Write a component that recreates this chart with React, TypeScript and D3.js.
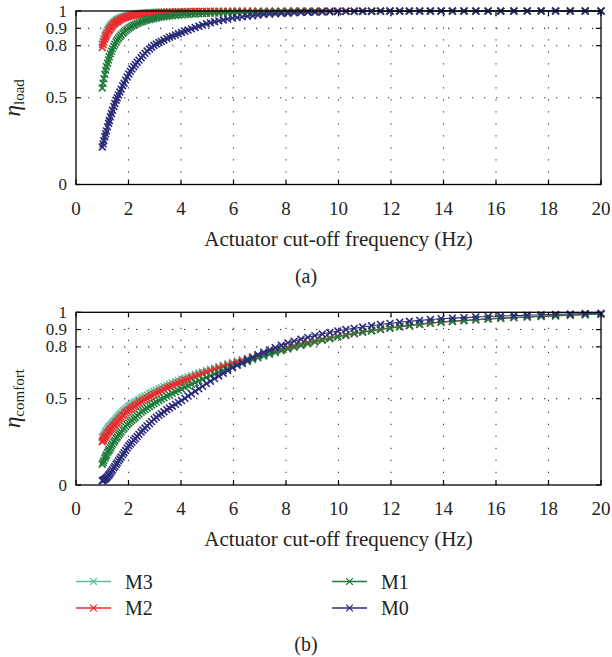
import React from "react";
import * as d3 from "d3";

// Actuator cut-off frequency grid (Hz)
const freq = [
  1.00, 1.03, 1.06, 1.10, 1.13, 1.16, 1.20, 1.24, 1.27, 1.31,
  1.35, 1.39, 1.44, 1.48, 1.53, 1.57, 1.62, 1.67, 1.72, 1.78,
  1.83, 1.89, 1.95, 2.01, 2.07, 2.13, 2.20, 2.26, 2.33, 2.40,
  2.48, 2.55, 2.63, 2.71, 2.80, 2.88, 2.97, 3.06, 3.16, 3.25,
  3.35, 3.46, 3.56, 3.67, 3.79, 3.90, 4.02, 4.15, 4.27, 4.40,
  4.54, 4.68, 4.82, 4.97, 5.12, 5.28, 5.44, 5.61, 5.78, 5.96,
  6.14, 6.33, 6.53, 6.73, 6.93, 7.15, 7.37, 7.59, 7.82, 8.07,
  8.31, 8.57, 8.83, 9.10, 9.38, 9.67, 9.97, 10.28, 10.60, 10.92,
  11.26, 11.60, 11.96, 12.33, 12.70, 13.09, 13.50, 13.91, 14.34, 14.78,
  15.23, 15.70, 16.18, 16.68, 17.19, 17.72, 18.27, 18.83, 19.40, 20.00,
];

// (a) eta_load
const loadM3 = [
  0.810, 0.826, 0.840, 0.857, 0.868, 0.878, 0.890, 0.900, 0.907, 0.915,
  0.923, 0.929, 0.936, 0.941, 0.947, 0.951, 0.955, 0.959, 0.963, 0.966,
  0.969, 0.972, 0.974, 0.977, 0.979, 0.980, 0.982, 0.984, 0.985, 0.986,
  0.988, 0.989, 0.990, 0.990, 0.991, 0.992, 0.993, 0.993, 0.994, 0.994,
  0.995, 0.995, 0.996, 0.996, 0.997, 0.997, 0.997, 0.997, 0.998, 0.998,
  0.998, 0.998, 0.998, 0.998, 0.999, 0.999, 0.999, 0.999, 0.999, 0.999,
  0.999, 0.999, 0.999, 0.999, 0.999, 1, 1, 1, 1, 1,
  1, 1, 1, 1, 1, 1, 1, 1, 1, 1,
  1, 1, 1, 1, 1, 1, 1, 1, 1, 1,
  1, 1, 1, 1, 1, 1, 1, 1, 1, 1,
];
const loadM2 = [
  0.790, 0.806, 0.821, 0.838, 0.850, 0.860, 0.873, 0.884, 0.891, 0.900,
  0.908, 0.915, 0.923, 0.929, 0.935, 0.939, 0.944, 0.949, 0.953, 0.957,
  0.960, 0.964, 0.967, 0.969, 0.972, 0.974, 0.976, 0.978, 0.980, 0.981,
  0.983, 0.984, 0.985, 0.986, 0.988, 0.989, 0.989, 0.990, 0.991, 0.992,
  0.992, 0.993, 0.994, 0.994, 0.995, 0.995, 0.995, 0.996, 0.996, 0.996,
  0.997, 0.997, 0.997, 0.997, 0.998, 0.998, 0.998, 0.998, 0.998, 0.998,
  0.999, 0.999, 0.999, 0.999, 0.999, 0.999, 0.999, 0.999, 0.999, 0.999,
  1, 1, 1, 1, 1, 1, 1, 1, 1, 1,
  1, 1, 1, 1, 1, 1, 1, 1, 1, 1,
  1, 1, 1, 1, 1, 1, 1, 1, 1, 1,
];
const loadM1 = [
  0.556, 0.584, 0.610, 0.635, 0.658, 0.679, 0.699, 0.718, 0.736, 0.753,
  0.768, 0.783, 0.797, 0.809, 0.821, 0.833, 0.843, 0.853, 0.862, 0.871,
  0.879, 0.887, 0.894, 0.901, 0.907, 0.913, 0.918, 0.923, 0.928, 0.933,
  0.937, 0.941, 0.945, 0.948, 0.951, 0.954, 0.957, 0.960, 0.963, 0.965,
  0.967, 0.969, 0.971, 0.973, 0.975, 0.976, 0.978, 0.979, 0.980, 0.982,
  0.983, 0.984, 0.985, 0.986, 0.987, 0.988, 0.988, 0.989, 0.990, 0.990,
  0.991, 0.992, 0.992, 0.993, 0.993, 0.994, 0.994, 0.994, 0.995, 0.995,
  0.995, 0.996, 0.996, 0.996, 0.996, 0.996, 0.997, 0.997, 0.997, 0.997,
  0.997, 0.998, 0.998, 0.998, 0.998, 0.998, 0.998, 0.999, 0.999, 0.999,
  0.999, 0.999, 0.999, 0.999, 1, 1, 1, 1, 1, 1,
];
const loadM0 = [
  0.216, 0.234, 0.252, 0.275, 0.292, 0.309, 0.332, 0.353, 0.369, 0.390,
  0.409, 0.428, 0.450, 0.467, 0.486, 0.500, 0.516, 0.533, 0.549, 0.569,
  0.584, 0.602, 0.620, 0.637, 0.652, 0.666, 0.679, 0.692, 0.705, 0.717,
  0.731, 0.743, 0.756, 0.769, 0.781, 0.791, 0.801, 0.810, 0.818, 0.825,
  0.833, 0.842, 0.849, 0.855, 0.862, 0.869, 0.876, 0.883, 0.890, 0.897,
  0.905, 0.912, 0.919, 0.927, 0.932, 0.938, 0.943, 0.948, 0.953, 0.959,
  0.962, 0.966, 0.970, 0.973, 0.977, 0.980, 0.982, 0.984, 0.986, 0.987,
  0.989, 0.991, 0.992, 0.993, 0.994, 0.996, 0.997, 0.998, 0.998, 0.999,
  0.999, 1, 1, 1, 1, 1, 1, 1, 1, 1,
  1, 1, 1, 1, 1, 1, 1, 1, 1, 1,
];

// (b) eta_comfort
const comfortM3 = [
  0.275, 0.283, 0.290, 0.300, 0.308, 0.315, 0.325, 0.332, 0.338, 0.345,
  0.352, 0.360, 0.368, 0.375, 0.383, 0.390, 0.398, 0.407, 0.415, 0.425,
  0.432, 0.440, 0.448, 0.456, 0.462, 0.468, 0.475, 0.481, 0.488, 0.495,
  0.503, 0.509, 0.515, 0.522, 0.529, 0.535, 0.543, 0.549, 0.556, 0.563,
  0.570, 0.577, 0.584, 0.591, 0.599, 0.606, 0.613, 0.620, 0.626, 0.633,
  0.641, 0.648, 0.655, 0.663, 0.671, 0.678, 0.686, 0.694, 0.702, 0.710,
  0.718, 0.726, 0.735, 0.743, 0.752, 0.761, 0.770, 0.779, 0.788, 0.798,
  0.806, 0.816, 0.826, 0.835, 0.844, 0.853, 0.863, 0.871, 0.880, 0.888,
  0.896, 0.904, 0.912, 0.919, 0.926, 0.932, 0.939, 0.945, 0.949, 0.954,
  0.958, 0.963, 0.967, 0.971, 0.974, 0.978, 0.981, 0.984, 0.987, 0.990,
];
const comfortM2 = [
  0.250, 0.258, 0.265, 0.275, 0.283, 0.290, 0.300, 0.308, 0.313, 0.321,
  0.328, 0.336, 0.345, 0.352, 0.360, 0.367, 0.375, 0.384, 0.392, 0.402,
  0.409, 0.418, 0.426, 0.434, 0.440, 0.447, 0.454, 0.460, 0.467, 0.475,
  0.483, 0.489, 0.496, 0.503, 0.510, 0.517, 0.525, 0.532, 0.539, 0.546,
  0.554, 0.562, 0.569, 0.576, 0.584, 0.591, 0.599, 0.607, 0.613, 0.621,
  0.629, 0.637, 0.645, 0.653, 0.661, 0.669, 0.677, 0.686, 0.694, 0.703,
  0.711, 0.720, 0.729, 0.738, 0.747, 0.756, 0.766, 0.775, 0.784, 0.795,
  0.804, 0.814, 0.824, 0.833, 0.842, 0.851, 0.861, 0.869, 0.878, 0.886,
  0.894, 0.902, 0.910, 0.917, 0.924, 0.931, 0.938, 0.944, 0.948, 0.953,
  0.957, 0.962, 0.966, 0.970, 0.973, 0.977, 0.980, 0.983, 0.987, 0.990,
];
const comfortM1 = [
  0.120, 0.131, 0.141, 0.155, 0.165, 0.175, 0.188, 0.198, 0.206, 0.216,
  0.227, 0.237, 0.249, 0.258, 0.269, 0.278, 0.289, 0.298, 0.308, 0.319,
  0.328, 0.338, 0.349, 0.358, 0.367, 0.375, 0.384, 0.392, 0.402, 0.411,
  0.422, 0.430, 0.438, 0.446, 0.455, 0.463, 0.472, 0.480, 0.489, 0.497,
  0.505, 0.515, 0.522, 0.531, 0.539, 0.548, 0.556, 0.566, 0.574, 0.583,
  0.593, 0.603, 0.612, 0.623, 0.632, 0.642, 0.652, 0.663, 0.673, 0.685,
  0.694, 0.704, 0.715, 0.726, 0.736, 0.747, 0.757, 0.767, 0.777, 0.788,
  0.797, 0.808, 0.818, 0.828, 0.838, 0.847, 0.857, 0.866, 0.875, 0.884,
  0.892, 0.900, 0.908, 0.915, 0.922, 0.929, 0.936, 0.942, 0.947, 0.951,
  0.956, 0.961, 0.965, 0.969, 0.972, 0.976, 0.979, 0.983, 0.986, 0.989,
];
const comfortM0 = [
  0.025, 0.027, 0.030, 0.033, 0.038, 0.042, 0.048, 0.056, 0.062, 0.070,
  0.079, 0.088, 0.099, 0.108, 0.119, 0.128, 0.140, 0.151, 0.162, 0.176,
  0.187, 0.200, 0.214, 0.227, 0.237, 0.247, 0.259, 0.269, 0.281, 0.293,
  0.307, 0.318, 0.330, 0.342, 0.355, 0.367, 0.381, 0.392, 0.403, 0.413,
  0.424, 0.436, 0.446, 0.456, 0.467, 0.478, 0.489, 0.502, 0.515, 0.528,
  0.543, 0.557, 0.571, 0.587, 0.601, 0.616, 0.631, 0.647, 0.663, 0.679,
  0.694, 0.708, 0.724, 0.739, 0.755, 0.769, 0.782, 0.795, 0.809, 0.823,
  0.833, 0.844, 0.855, 0.865, 0.874, 0.883, 0.892, 0.900, 0.907, 0.915,
  0.922, 0.929, 0.936, 0.942, 0.948, 0.953, 0.958, 0.963, 0.966, 0.969,
  0.973, 0.976, 0.979, 0.981, 0.983, 0.986, 0.988, 0.990, 0.993, 0.995,
];

const seriesNames = ["M3", "M2", "M1", "M0"];
const seriesColors = ["#5bbf9f", "#ec2a2d", "#1f7b3b", "#2b2b7b"];
const xTicks = [0, 2, 4, 6, 8, 10, 12, 14, 16, 18, 20];
const yTicks = [0, 0.5, 0.8, 0.9, 1];
const yTickLabels = ["0", "0.5", "0.8", "0.9", "1"];
const xTitle = "Actuator cut-off frequency (Hz)";

const FONT = "Liberation Serif, Times New Roman, DejaVu Serif, serif";
const TEXT = "#231f20";
const X0 = 76;
const X1 = 601;

const xMark = "M-3.4,-3.4L3.4,3.4M-3.4,3.4L3.4,-3.4";

function Panel({ top, bottom, series, sub, caption }) {
  const x = d3.scaleLinear().domain([0, 20]).range([X0, X1]);
  const y = d3.scaleLinear().domain([0, 1]).range([bottom, top]);
  const line = d3
    .line()
    .x((d) => x(d[0]))
    .y((d) => y(d[1]));
  const tick = 5;
  const yc = (top + bottom) / 2;
  return (
    <g>
      {yTicks
        .filter((v) => v > 0 && v < 1)
        .map((v) => (
          <line key={"gy" + v} x1={X0} x2={X1} y1={y(v)} y2={y(v)} stroke="#3a3a3a" strokeWidth={1.1} strokeDasharray="1.3 10.7" />
        ))}
      {xTicks
        .filter((v) => v > 0 && v < 20)
        .map((v) => (
          <line key={"gx" + v} x1={x(v)} x2={x(v)} y1={bottom} y2={top} stroke="#3a3a3a" strokeWidth={1.1} strokeDasharray="1.3 10.7" />
        ))}
      {xTicks.map((v) => (
        <g key={"tx" + v}>
          <line x1={x(v)} x2={x(v)} y1={bottom} y2={bottom - tick} stroke="#000" strokeWidth={1.2} />
          <line x1={x(v)} x2={x(v)} y1={top} y2={top + tick} stroke="#000" strokeWidth={1.2} />
          <text x={x(v)} y={bottom + 30} textAnchor="middle" fontSize={19} fill={TEXT} style={{ fontFamily: FONT }}>
            {v}
          </text>
        </g>
      ))}
      {yTicks.map((v, i) => (
        <g key={"ty" + v}>
          <line x1={X0} x2={X0 + tick} y1={y(v)} y2={y(v)} stroke="#000" strokeWidth={1.2} />
          <line x1={X1} x2={X1 - tick} y1={y(v)} y2={y(v)} stroke="#000" strokeWidth={1.2} />
          <text x={X0 - 9} y={y(v) + 5.5} textAnchor="end" fontSize={17} fill={TEXT} style={{ fontFamily: FONT }}>
            {yTickLabels[i]}
          </text>
        </g>
      ))}
      {series.map((vals, si) => {
        const pts = freq.map((f, i) => [f, vals[i]]);
        return (
          <g key={"s" + si} stroke={seriesColors[si]} fill="none">
            <path d={line(pts)} strokeWidth={1.1} />
            {pts.map((p, i) => (
              <path key={i} d={xMark} transform={`translate(${x(p[0])},${y(p[1])})`} strokeWidth={1.6} />
            ))}
          </g>
        );
      })}
      <rect x={X0} y={top} width={X1 - X0} height={bottom - top} fill="none" stroke="#000" strokeWidth={1.3} />
      <text x={(X0 + X1) / 2} y={bottom + 61} textAnchor="middle" fontSize={21} fill={TEXT} style={{ fontFamily: FONT }}>
        {xTitle}
      </text>
      <text transform={`translate(20,${yc}) rotate(-90)`} textAnchor="middle" fill={TEXT} style={{ fontFamily: FONT }}>
        <tspan fontStyle="italic" fontSize={23}>η</tspan>
        <tspan fontSize={15} dy={4}>{sub}</tspan>
      </text>
      {caption}
    </g>
  );
}

export default function App() {
  const legendRows = [
    { idx: 0, x: 76, y: 581.5 },
    { idx: 1, x: 76, y: 608 },
    { idx: 2, x: 332, y: 581.5 },
    { idx: 3, x: 332, y: 608 },
  ];
  return (
    <svg width={612} height={657} style={{ position: "absolute", left: 0, top: 0, background: "#fff" }}>
      <rect width={612} height={657} fill="#fff" />
      <Panel
        top={11}
        bottom={184.5}
        series={[loadM3, loadM2, loadM1, loadM0]}
        sub="load"
        caption={
          <text x={306} y={283} textAnchor="middle" fontSize={20} fill={TEXT} style={{ fontFamily: FONT }}>
            (a)
          </text>
        }
      />
      <Panel
        top={312.3}
        bottom={485}
        series={[comfortM3, comfortM2, comfortM1, comfortM0]}
        sub="comfort"
        caption={
          <text x={306} y={651} textAnchor="middle" fontSize={20} fill={TEXT} style={{ fontFamily: FONT }}>
            (b)
          </text>
        }
      />
      {legendRows.map((r) => (
        <g key={"lg" + r.idx}>
          <line x1={r.x} x2={r.x + 35} y1={r.y} y2={r.y} stroke={seriesColors[r.idx]} strokeWidth={1.3} />
          <path d={xMark} transform={`translate(${r.x + 17.5},${r.y})`} stroke={seriesColors[r.idx]} strokeWidth={1.3} fill="none" />
          <text x={r.x + 49} y={r.y + 7} fontSize={20} fill={TEXT} style={{ fontFamily: FONT }}>
            {seriesNames[r.idx]}
          </text>
        </g>
      ))}
    </svg>
  );
}
